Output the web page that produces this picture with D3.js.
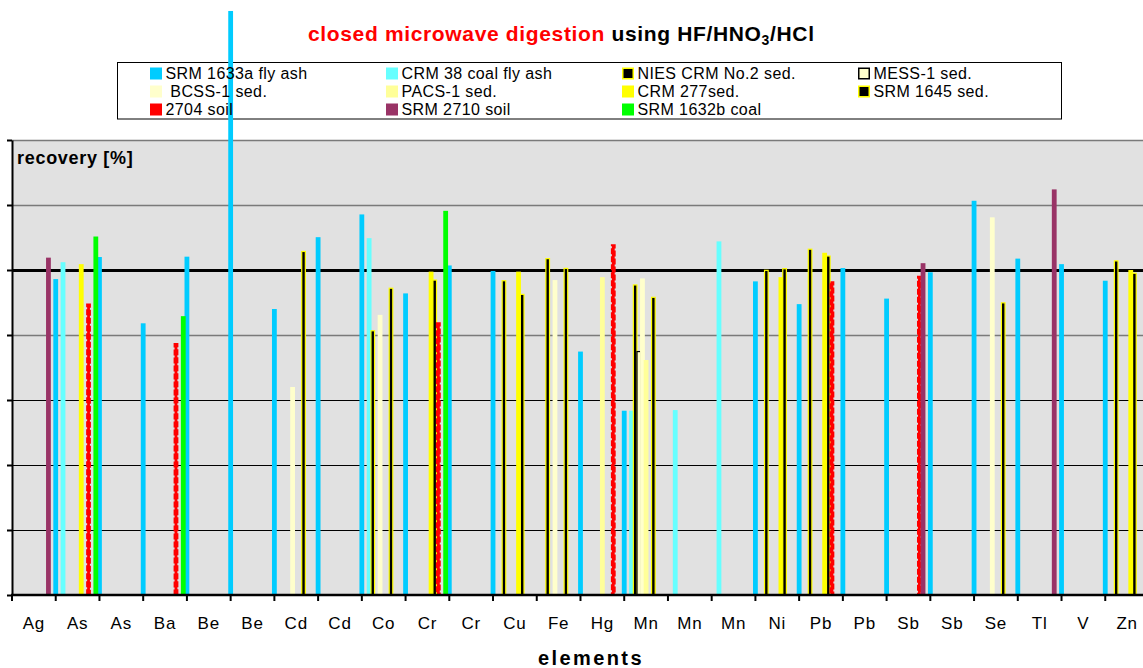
<!DOCTYPE html>
<html>
<head>
<meta charset="utf-8">
<script src="https://cdn.jsdelivr.net/npm/d3@7"></script>
<style>
  body { margin: 0; background: #fff; }
  text { font-family: Arial, "Liberation Sans", sans-serif; }
</style>
</head>
<body>
<script>
// element labels along the x axis (one per cluster)
var categories = ["Ag", "As", "As", "Ba", "Be", "Be", "Cd", "Cd", "Co", "Cr", "Cr", "Cu", "Fe",
                  "Hg", "Mn", "Mn", "Mn", "Ni", "Pb", "Pb", "Sb", "Sb", "Se", "Tl", "V", "Zn"];

// series in the order the chart uses them; the second slot is an empty series
var seriesNames = ["SRM 1633a fly ash", "", "CRM 38 coal fly ash", "NIES CRM No.2 sed.", "MESS-1 sed.",
                   " BCSS-1 sed.", "PACS-1 sed.", "CRM 277sed.", "SRM 1645 sed.", "2704 soil",
                   "SRM 2710 soil", "SRM 1632b coal"];

// recovery [%] per element, null = not measured
var srm1633a = [null, 97.2, 104.0, 83.6, 104.1, 179.7, 88.0, 110.1, 117.1, 92.8, 101.4, 99.7, null,
                74.9, 56.7, null, null, 96.5, 89.5, 100.6, 91.2, 99.3, 121.3, 103.5, 101.8, 96.7];
var emptySeries = [null, null, null, null, null, null, null, null, null, null, null, null, null,
                   null, null, null, null, null, null, null, null, null, null, null, null, null];
var crm38 = [null, 102.4, null, null, null, null, null, null, 109.8, null, null, null, null,
             null, 56.7, 56.9, 108.8, null, null, null, null, null, null, null, null, null];
var nies2 = [null, null, null, null, null, null, null, null, 81.3, null, null, 96.7, 103.5,
             null, 95.4, null, null, 99.9, 106.4, null, null, null, null, null, null, 102.8];
var mess1 = [null, null, null, null, null, null, null, null, null, null, null, null, null,
             null, 74.9, null, null, null, null, null, null, null, null, null, null, null];
var bcss1 = [null, null, null, null, null, null, 64.0, null, 86.2, null, null, null, 96.9,
             null, 97.4, null, null, null, null, null, null, null, 116.2, null, null, null];
var pacs1 = [null, null, null, null, null, null, null, null, null, null, null, null, null,
             97.8, 72.3, null, null, null, null, null, null, null, null, null, null, null];
var crm277 = [null, 101.8, null, null, null, null, null, null, null, 99.5, null, 99.5, null,
              null, null, null, null, 97.8, 105.3, null, null, null, null, null, null, 100.0];
var srm1645 = [null, null, null, null, null, null, 105.7, null, 94.4, 96.9, null, 92.5, 100.5,
               null, 91.6, null, null, 100.4, 104.3, null, null, null, 89.9, null, null, 99.0];
var soil2704 = [null, 89.4, null, 77.2, null, null, null, null, null, 83.6, null, null, null,
                107.6, null, null, null, null, 96.2, null, 97.9, null, null, null, null, null];
var srm2710 = [103.8, null, null, null, null, null, null, null, null, null, null, null, null,
               null, null, null, null, null, null, null, 102.1, null, null, 124.8, null, null];
var srm1632b = [null, 110.3, null, 85.8, null, null, null, null, null, 118.2, null, null, null,
                null, null, null, null, null, null, null, null, null, null, null, null, null];

var seriesValues = [srm1633a, emptySeries, crm38, nies2, mess1, bcss1, pacs1, crm277, srm1645,
                    soil2704, srm2710, srm1632b];

var yTicks = [0, 20, 40, 60, 80, 100, 120, 140];

// look of each series
var style = {
  "SRM 1633a fly ash":   {fill: "#00ccff"},
  "CRM 38 coal fly ash": {fill: "#66ffff"},
  "NIES CRM No.2 sed.":  {fill: "#000", stroke: "#ffff00"},
  "MESS-1 sed.":         {fill: "#ffffcc", stroke: "#000"},
  " BCSS-1 sed.":        {fill: "#ffffcc"},
  "PACS-1 sed.":         {fill: "#ffff99"},
  "CRM 277sed.":         {fill: "#ffff00"},
  "SRM 1645 sed.":       {fill: "#000", stroke: "#ffff00"},
  "2704 soil":           {fill: "#ff0000", dashed: true},
  "SRM 2710 soil":       {fill: "#993366"},
  "SRM 1632b coal":      {fill: "#00ff00"}
};

var svg = d3.select("body").append("svg")
    .attr("width", 1143)
    .attr("height", 668);

var plot = {left: 12, top: 140, bottom: 595, step: 43.73};
plot.right = plot.left + plot.step * categories.length;

var x0 = d3.scaleBand()
    .domain(d3.range(categories.length))
    .range([plot.left, plot.right])
    .paddingInner(0).paddingOuter(0);

var x1 = d3.scaleBand()
    .domain(seriesNames)
    .range([0, x0.bandwidth()])
    .padding(0);

var y = d3.scaleLinear()
    .domain([0, 140])
    .range([plot.bottom, plot.top]);

// plot background
svg.append("rect")
    .attr("x", plot.left).attr("y", plot.top)
    .attr("width", plot.right - plot.left).attr("height", plot.bottom - plot.top)
    .attr("fill", "#e1e1e1");

// gridlines
svg.append("g").selectAll("line")
  .data(yTicks.slice(1))
  .enter().append("line")
    .attr("x1", plot.left).attr("x2", plot.right)
    .attr("y1", function(d) { return Math.round(y(d)) + 0.5; })
    .attr("y2", function(d) { return Math.round(y(d)) + 0.5; })
    .attr("stroke", function(d) { return d == 100 ? "#000" : (d == 60 || d == 40 || d == 20) ? "#000" : "#7a7a7a"; })
    .attr("stroke-width", function(d) { return d == 100 ? 3 : (d == 60 || d == 40 || d == 20) ? 1 : 1.6; });

// legend frame (entries are drawn after the bars)
svg.append("rect")
    .attr("x", 117.5).attr("y", 62.5)
    .attr("width", 944).attr("height", 56.5)
    .attr("fill", "#fff")
    .attr("stroke", "#000")
    .attr("stroke-width", 1);

// bars
var bw = 4.8;
var serie = svg.append("g").selectAll(".serie")
  .data(seriesNames.map(function(name, i) { return {key: name, values: seriesValues[i]}; })
                   .filter(function(s) { return s.key !== ""; }))
  .enter().append("g")
    .attr("class", "serie");

serie.selectAll("rect")
  .data(function(s) {
    return s.values.map(function(v, i) { return {key: s.key, cat: i, value: v}; })
                   .filter(function(d) { return d.value != null; });
  })
  .enter().append("rect")
    .attr("x", function(d) {
      var inset = style[d.key].stroke ? 0.6 : style[d.key].dashed ? 1 : 0;
      return x0(d.cat) + x1(d.key) - bw / 2 + inset;
    })
    .attr("y", function(d) { return y(d.value); })
    .attr("width", function(d) {
      return style[d.key].stroke ? bw - 1.2 : style[d.key].dashed ? bw - 2 : bw;
    })
    .attr("height", function(d) { return y(0) - y(d.value); })
    .attr("fill", function(d) { return style[d.key].fill; })
    .attr("stroke", function(d) {
      return style[d.key].stroke || (style[d.key].dashed ? style[d.key].fill : "none");
    })
    .attr("stroke-width", function(d) { return style[d.key].dashed ? 2 : 1.2; })
    .attr("stroke-dasharray", function(d) { return style[d.key].dashed ? "6,2" : null; });

// legend entries
var legendItems = seriesNames.filter(function(d) { return d !== ""; });
var item = svg.append("g").attr("class", "legend").selectAll(".item")
  .data(legendItems)
  .enter().append("g")
    .attr("class", "item")
    .attr("transform", function(d, i) {
      return "translate(" + (150 + 236 * (i % 4)) + "," + (73.5 + 18 * Math.floor(i / 4)) + ")";
    });

item.append("rect")
    .attr("x", function(d) { return style[d].stroke ? 0.75 : 0; })
    .attr("y", function(d) { return style[d].stroke ? -5.25 : -6; })
    .attr("width", function(d) { return style[d].stroke ? 10.5 : 12; })
    .attr("height", function(d) { return style[d].stroke ? 10.5 : 12; })
    .attr("fill", function(d) { return style[d].fill; })
    .attr("stroke", function(d) { return style[d].stroke || "none"; })
    .attr("stroke-width", 1.5);

item.append("text")
    .attr("x", 15.5)
    .attr("y", 5.7)
    .style("font-size", "16px")
    .style("letter-spacing", "0.4px")
    .style("white-space", "pre")
    .attr("fill", "#000")
    .text(function(d) { return d; });

// y axis
var yAxis = svg.append("g")
    .attr("transform", "translate(" + plot.left + ",0)")
    .call(d3.axisLeft(y).tickValues(yTicks).tickSize(5).tickSizeOuter(0).tickFormat(""));
yAxis.select(".domain").attr("stroke", "#000").attr("stroke-width", 2);
yAxis.selectAll(".tick line").attr("stroke", "#000").attr("stroke-width", 2);

// x axis line and ticks at the cluster edges
svg.append("line")
    .attr("x1", plot.left - 1).attr("x2", plot.right)
    .attr("y1", plot.bottom).attr("y2", plot.bottom)
    .attr("stroke", "#000").attr("stroke-width", 2.5);

svg.append("g").selectAll("line")
  .data(d3.range(categories.length + 1))
  .enter().append("line")
    .attr("x1", function(i) { return plot.left + i * x0.step(); })
    .attr("x2", function(i) { return plot.left + i * x0.step(); })
    .attr("y1", plot.bottom).attr("y2", plot.bottom + 6)
    .attr("stroke", "#000").attr("stroke-width", 2);

var xAxis = svg.append("g")
    .attr("transform", "translate(0," + plot.bottom + ")")
    .call(d3.axisBottom(x0).tickSize(0).tickFormat(function(i) { return categories[i]; }));
xAxis.select(".domain").remove();
xAxis.selectAll("text")
    .attr("y", 34).attr("dy", null)
    .attr("fill", "#000")
    .style("font-size", "17px")
    .style("letter-spacing", "0.8px")
    .style("font-family", "Arial, 'Liberation Sans', sans-serif");

// titles
var title = svg.append("text")
    .attr("x", 308).attr("y", 41)
    .style("font-size", "21px")
    .style("font-weight", "bold")
    .style("letter-spacing", "0.65px");
title.append("tspan").attr("fill", "#ff0000").text("closed microwave digestion");
title.append("tspan").attr("fill", "#000").text(" using HF/HNO");
title.append("tspan").attr("fill", "#000").attr("dy", 4).style("font-size", "14px").text("3");
title.append("tspan").attr("fill", "#000").attr("dy", -4).text("/HCl");

svg.append("text")
    .attr("x", 17).attr("y", 164)
    .style("font-size", "18px")
    .style("font-weight", "bold")
    .style("letter-spacing", "0.7px")
    .attr("fill", "#000")
    .text("recovery [%]");

svg.append("text")
    .attr("x", 591).attr("y", 665)
    .attr("text-anchor", "middle")
    .style("font-size", "20px")
    .style("font-weight", "bold")
    .style("letter-spacing", "2.4px")
    .attr("fill", "#000")
    .text("elements");
</script>
</body>
</html>
